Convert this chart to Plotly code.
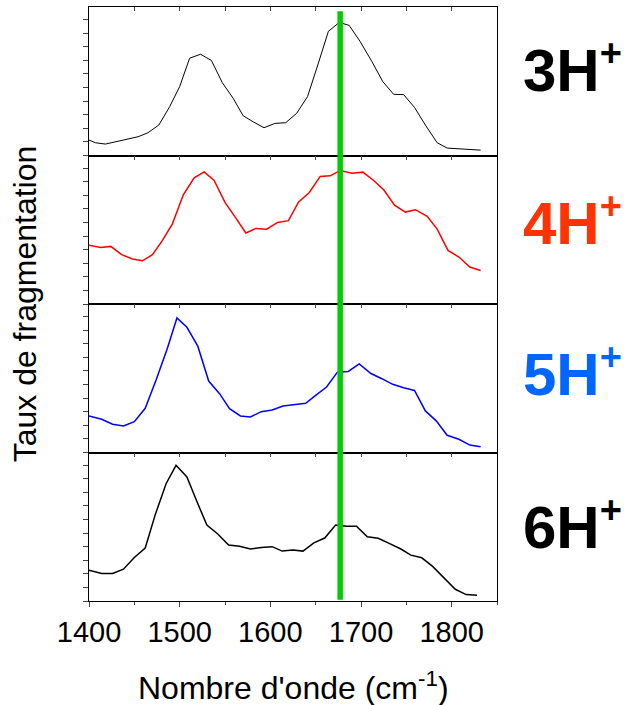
import plotly.graph_objects as go
from plotly.subplots import make_subplots

# wavenumbers (cm-1) and fragmentation rate (arb. units, 0-100 per panel)
x_3h = [1400, 1407, 1418, 1430, 1441, 1454, 1465, 1477, 1489, 1500, 1511, 1523, 1535, 1547,
        1559, 1570, 1581, 1593, 1605, 1617, 1629, 1641, 1653, 1664, 1676, 1687, 1699, 1712,
        1724, 1736, 1747, 1759, 1771, 1784, 1795, 1809, 1832]
y_3h = [10.4, 8.6, 7.7, 9.2, 10.8, 12.6, 15.3, 20.5, 32.9, 46.4, 65.5, 68.2, 64.0, 49.1,
        38.5, 26.8, 22.7, 18.7, 21.6, 22.1, 28.4, 39.6, 62.2, 83.6, 89.6, 87.6, 76.8, 63.3,
        49.8, 41.2, 41.0, 32.4, 20.5, 8.6, 5.0, 4.5, 3.6]

x_4h = [1400, 1413, 1424, 1436, 1448, 1459, 1470, 1481, 1492, 1504, 1516, 1527, 1538, 1550,
        1562, 1573, 1584, 1596, 1608, 1620, 1631, 1643, 1655, 1666, 1677, 1690, 1702, 1714,
        1725, 1737, 1749, 1760, 1773, 1784, 1796, 1808, 1820, 1832]
y_4h = [39.5, 38.1, 38.8, 33.2, 30.3, 29.1, 33.2, 42.8, 54.0, 73.5, 85.0, 89.0, 83.2, 68.4,
        57.8, 47.8, 50.9, 50.4, 54.9, 56.1, 68.6, 75.1, 85.9, 86.3, 89.9, 88.1, 88.8, 83.2,
        76.9, 66.6, 61.9, 63.5, 59.0, 50.4, 36.1, 31.6, 24.9, 22.6]

x_5h = [1400, 1414, 1426, 1438, 1450, 1462, 1474, 1486, 1497, 1508, 1520, 1532, 1544, 1555,
        1567, 1578, 1590, 1602, 1614, 1626, 1639, 1650, 1662, 1674, 1686, 1698, 1711, 1723,
        1735, 1747, 1759, 1771, 1783, 1795, 1808, 1820, 1832]
y_5h = [24.6, 22.4, 19.0, 17.9, 20.8, 29.8, 48.8, 69.4, 90.6, 84.3, 71.6, 48.1, 39.6, 29.5,
        24.6, 23.9, 27.5, 28.6, 31.3, 32.4, 33.1, 38.5, 44.1, 54.1, 54.6, 59.7, 53.2, 49.7,
        45.9, 43.6, 41.8, 28.0, 21.3, 11.6, 8.9, 5.0, 3.8]

x_6h = [1400, 1414, 1426, 1438, 1450, 1462, 1473, 1485, 1496, 1508, 1519, 1530, 1542, 1554,
        1566, 1578, 1590, 1602, 1613, 1625, 1636, 1648, 1660, 1672, 1684, 1695, 1707, 1719,
        1731, 1744, 1755, 1767, 1779, 1791, 1804, 1816, 1828]
y_6h = [20.8, 18.5, 18.5, 21.4, 29.3, 35.7, 58.0, 79.0, 91.4, 83.5, 67.0, 51.2, 45.1, 37.7,
        36.8, 35.0, 36.1, 36.6, 33.6, 34.3, 33.6, 39.1, 42.4, 51.2, 50.3, 50.3, 43.3, 42.2,
        38.8, 35.0, 30.9, 29.1, 23.3, 15.8, 7.9, 4.3, 3.8]

series_x = [x_3h, x_4h, x_5h, x_6h]
series_y = [y_3h, y_4h, y_5h, y_6h]
line_colors = ["#000000", "#FF0000", "#0000FF", "#000000"]
line_widths = [1, 1.5, 1.5, 1.5]
labels = ["3H", "4H", "5H", "6H"]
label_colors = ["#000000", "#FF3300", "#0066FF", "#000000"]
label_pos = [0.59, 0.56, 0.54, 0.515]

green_x = 1677
x_range = [1400, 1850]
x_ticks = [1400, 1500, 1600, 1700, 1800]

FONT = "Arial, Liberation Sans, sans-serif"

fig = make_subplots(rows=4, cols=1, shared_xaxes=True, vertical_spacing=0)

for i in range(4):
    fig.add_trace(go.Scatter(x=series_x[i], y=series_y[i], mode="lines",
                             line=dict(color=line_colors[i], width=line_widths[i]),
                             showlegend=False), row=i + 1, col=1)
    fig.update_xaxes(range=x_range, side="top", ticks="inside", ticklen=4, tickwidth=1,
                     dtick=50, tick0=1400, showticklabels=False, showline=True, mirror=True,
                     linecolor="black", linewidth=1.2, showgrid=False, zeroline=False,
                     row=i + 1, col=1)
    fig.update_yaxes(range=[0, 100], ticks="outside", ticklen=5, tickwidth=1, tick0=0,
                     dtick=9.15, showticklabels=False, showline=True, mirror=True,
                     linecolor="black", linewidth=1.2, showgrid=False, zeroline=False,
                     row=i + 1, col=1)
    fig.add_annotation(text=labels[i] + "<sup><span style='font-size:38px'>+</span></sup>",
                       xref="paper", yref=f"y{'' if i == 0 else i + 1} domain",
                       x=1.059, y=label_pos[i], xanchor="left", yanchor="middle",
                       showarrow=False,
                       font=dict(family=FONT, size=60, color=label_colors[i], weight="bold"))

# bottom axis with labels
fig.update_layout(xaxis5=dict(overlaying="x4", anchor="y4", side="bottom", range=x_range,
                              tickvals=x_ticks, ticks="outside", ticklen=5, tickwidth=1.2,
                              minor=dict(dtick=50, tick0=1400, ticks="outside", ticklen=3,
                                         tickwidth=1.2),
                              showline=False, showgrid=False, zeroline=False,
                              tickfont=dict(family=FONT, size=29, color="black")))
fig.add_trace(go.Scatter(x=[None], y=[None], xaxis="x5", yaxis="y4", showlegend=False))

# green marker line
fig.add_shape(type="line", xref="x4", yref="paper", x0=green_x, x1=green_x, y0=0.002, y1=0.993,
              line=dict(color="#00CC00", width=5.5))

fig.add_annotation(text="Taux de fragmentation", xref="paper", yref="paper", x=-0.156, y=0.5,
                   textangle=-90, showarrow=False, xanchor="center", yanchor="middle",
                   font=dict(family=FONT, size=32, color="black"))
fig.add_annotation(text="Nombre d'onde (cm<sup>-1</sup>)", xref="paper", yref="paper",
                   x=0.5, y=-0.143, showarrow=False, xanchor="center", yanchor="middle",
                   font=dict(family=FONT, size=32, color="black"))

fig.update_layout(width=631, height=705, margin=dict(l=89, r=134, t=7, b=104),
                  plot_bgcolor="white", paper_bgcolor="white",
                  font=dict(family=FONT, color="black"))

fig.write_html("out.html", config={"displayModeBar": False},
               post_script="document.body.style.margin='0px';")
